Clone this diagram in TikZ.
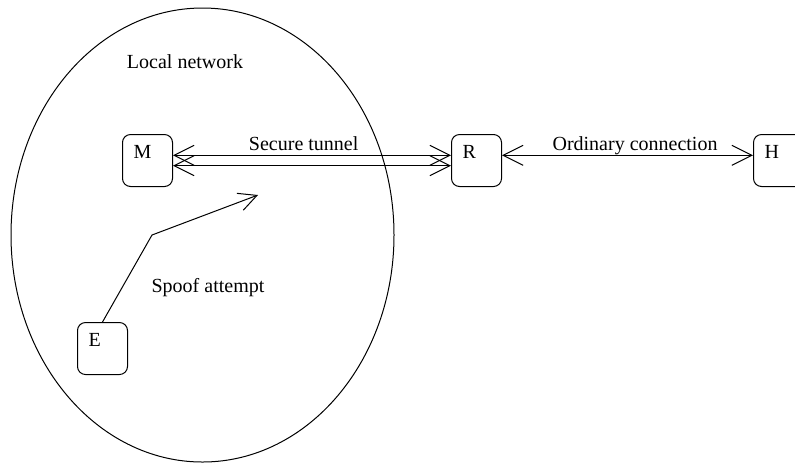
\documentclass[tikz,border=0pt]{standalone}
\usepackage{fontspec}
\setmainfont{Liberation Serif}
\usetikzlibrary{arrows.meta,positioning}

\begin{document}
\begin{tikzpicture}[x=0.5pt, y=-0.5pt, line width=0.5pt,
      host/.style={draw, rounded corners=4pt, anchor=north west,
                   minimum width=25pt, minimum height=26pt,
                   text width=14pt, align=left, inner xsep=5pt, inner ysep=2pt,
                   text height=10pt, text depth=12pt, font=\fontsize{10}{12}\selectfont},
      link/.style={{Straight Barb[length=10pt, width=10pt]}-{Straight Barb[length=10pt, width=10pt]}},
      spoof/.style={-{Straight Barb[length=9pt, width=9pt]}},
      lbl/.style={font=\fontsize{10}{12}\selectfont, anchor=base, inner sep=0pt}]
    \useasboundingbox (0,0) rectangle (795,462);
    % ----- local network
    \draw (202.5,235) ellipse [x radius=95.75pt, y radius=113.5pt];
    \node[lbl] (lan) at (185,68) {Local network};
    % ----- hosts
    \node[host] (M) at (122,134) {M};
    \node[host] (R) at (451,134) {R};
    \node[host] (H) at (753,134) {H};
    \node[host] (E) at (77,322) {E};
    % ----- tunnel M <-> R
    \draw[link] ([yshift=2.6pt]M.east) -- ([yshift=2.6pt]R.west)
      node[lbl, pos=0.47, yshift=2.3pt] (tun) {Secure tunnel};
    \draw[link] ([yshift=-2.6pt]M.east) -- ([yshift=-2.6pt]R.west);
    % ----- R <-> H
    \draw[link] ([yshift=2.6pt]R.east) -- ([yshift=2.6pt]H.west)
      node[lbl, pos=0.53, yshift=2.3pt] (ord) {Ordinary connection};
    % ----- spoof from E
    \coordinate (bend) at (152,235);
    \coordinate (aim) at (258,195);
    \draw[spoof] (E.north) -- (bend) -- (aim);
    \node[lbl] (spf) at (208,292) {Spoof attempt};
\end{tikzpicture}
\end{document}
